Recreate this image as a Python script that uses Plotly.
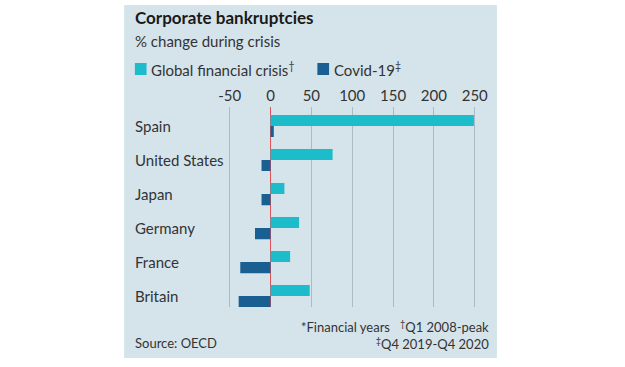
import plotly.graph_objects as go

# Data (bottom-to-top order for the category axis)
countries = ["Britain", "France", "Germany", "Japan", "United States", "Spain"]
gfc = [48, 24, 35, 17, 76, 249]
covid = [-39, -37, -19, -11, -11, 4]
tick_vals = [-50, 0, 50, 100, 150, 200, 250]
tick_text = ["-50", "0", "50", "100", "150", "200", "250"]

W, H = 625, 367
FONT = "Lato"
BG = "#d5e4eb"
CYAN = "#1cbccb"
DARK = "#1a5f92"

def px(x):
    return x / W

def py(y):
    return 1 - y / H

fig = go.Figure()
# Covid first so it sits below GFC within each group
fig.add_trace(go.Bar(y=countries, x=covid, orientation="h", name="Covid-19",
                     marker=dict(color=DARK, line=dict(width=0)), showlegend=False))
fig.add_trace(go.Bar(y=countries, x=gfc, orientation="h", name="Global financial crisis",
                     marker=dict(color=CYAN, line=dict(width=0)), showlegend=False))

x_lo, x_hi = -55, 256
x0_px, scale = 270.0, 0.837
left_px = x0_px + x_lo * scale
right_px = x0_px + x_hi * scale
top_px, bot_px = 107, 307

fig.update_layout(
    width=W, height=H,
    margin=dict(l=0, r=0, t=0, b=0),
    paper_bgcolor="white",
    plot_bgcolor="rgba(0,0,0,0)",
    barmode="group",
    bargap=0.35,
    bargroupgap=0,
    font=dict(family=FONT, color="#333333"),
    xaxis=dict(
        domain=[px(left_px), px(right_px)],
        range=[x_lo, x_hi],
        side="top",
        tickvals=tick_vals, ticktext=tick_text,
        tickfont=dict(size=15, color="#333333", family=FONT),
        showgrid=True, gridcolor="#a9bcc5", gridwidth=1,
        zeroline=True, zerolinecolor="#e0525a", zerolinewidth=1,
        showline=False, ticks="", ticklabelstandoff=2,
        fixedrange=True,
    ),
    yaxis=dict(
        domain=[py(bot_px), py(top_px)],
        range=[-0.32, 5.56],
        showticklabels=False, showgrid=False, zeroline=False, showline=False,
        ticks="", fixedrange=True,
    ),
    shapes=[
        dict(type="rect", xref="paper", yref="paper", layer="below",
             x0=px(120), x1=px(502), y0=py(358), y1=py(5),
             fillcolor=BG, line=dict(width=0)),
        dict(type="rect", xref="paper", yref="paper",
             x0=px(131), x1=px(143), y0=py(75), y1=py(63),
             fillcolor=CYAN, line=dict(width=0)),
        dict(type="rect", xref="paper", yref="paper",
             x0=px(318), x1=px(330), y0=py(75), y1=py(63),
             fillcolor=DARK, line=dict(width=0)),
    ],
)

def text(x, y, s, size, color="#333333", xanchor="left", bold=False, align="left"):
    fig.add_annotation(x=px(x), y=py(y), xref="paper", yref="paper", text=s,
                       showarrow=False, xanchor=xanchor, yanchor="middle", align=align,
                       font=dict(family=FONT, size=size, color=color,
                                 weight="bold" if bold else "normal"))

text(129, 17, "Corporate bankruptcies", 17, "#1a1a1a", bold=True)
text(129, 41, "% change during crisis", 15, "#333333")
text(146, 69, "Global financial crisis<sup>†</sup>", 15)
text(333, 69, "Covid-19<sup>‡</sup>", 15)

# category labels, positioned on the y axis through yref="y"
for c in countries:
    fig.add_annotation(x=px(129), xref="paper", y=c, yref="y", text=c,
                       showarrow=False, xanchor="left", yanchor="middle",
                       font=dict(family=FONT, size=15, color="#333333"))

text(496, 335, "*Financial years   <sup>†</sup>Q1 2008-peak<br><sup>‡</sup>Q4 2019-Q4 2020",
     13, xanchor="right", align="right")
text(129, 343, "Source: OECD", 13)

fig.write_html("out.html", config={"displayModeBar": False},
               post_script="document.body.style.margin='0';")
